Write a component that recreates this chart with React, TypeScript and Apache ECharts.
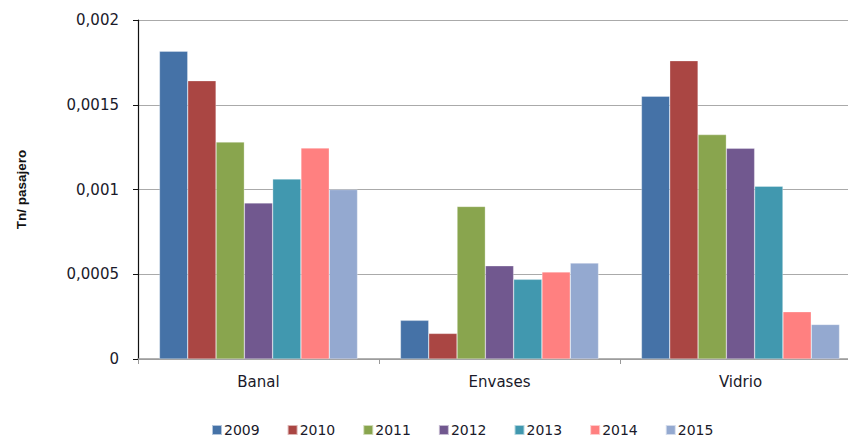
import React, { useEffect, useRef } from "react";
import * as echarts from "echarts";

const categories = ["Banal", "Envases", "Vidrio"];
const years = ["2009", "2010", "2011", "2012", "2013", "2014", "2015"];
const v2009 = [0.001816, 0.000228, 0.00155];
const v2010 = [0.001642, 0.000151, 0.00176];
const v2011 = [0.00128, 0.0009, 0.001324];
const v2012 = [0.000921, 0.00055, 0.001243];
const v2013 = [0.001062, 0.00047, 0.001019];
const v2014 = [0.001245, 0.000514, 0.000279];
const v2015 = [0.001, 0.000566, 0.000204];
const seriesValues = [v2009, v2010, v2011, v2012, v2013, v2014, v2015];
const colors = ["#4572A7", "#AA4643", "#89A54E", "#71588F", "#4198AF", "#FF8080", "#94A9D0"];

export default function App() {
  const ref = useRef<HTMLDivElement>(null);
  useEffect(() => {
    if (!ref.current) return;
    const chart = echarts.init(ref.current, undefined, { renderer: "svg" });
    chart.setOption({
      animation: false,
      backgroundColor: "#ffffff",
      textStyle: { fontFamily: "DejaVu Sans" },
      grid: {
        left: 138,
        top: 20,
        width: 723,
        height: 339,
        containLabel: false,
        outerBoundsMode: "none",
      },
      legend: {
        bottom: -4,
        left: 206,
        itemWidth: 10,
        itemHeight: 10,
        itemGap: 27,
        icon: "rect",
        textStyle: { fontSize: 14, color: "#1a1a2a", padding: [0, 0, 0, -3] },
        data: years,
      },
      xAxis: {
        type: "category",
        data: categories,
        axisLine: { lineStyle: { color: "#999", width: 1.5 } },
        axisTick: { show: true, length: 5, lineStyle: { color: "#999" } },
        axisLabel: { fontSize: 15, color: "#1a1a2a", margin: 15 },
      },
      yAxis: {
        type: "value",
        min: 0,
        max: 0.002,
        interval: 0.0005,
        name: "Tn/ pasajero",
        nameLocation: "middle",
        nameGap: 110,
        nameTextStyle: {
          fontSize: 13.5,
          fontWeight: "bold",
          color: "#111",
          fontFamily: "Liberation Sans",
        },
        axisLine: { show: true, lineStyle: { color: "#111", width: 1.2 } },
        axisTick: { show: true, length: 5, lineStyle: { color: "#111" } },
        axisLabel: {
          fontSize: 15,
          color: "#1a1a2a",
          margin: 19,
          formatter: (v: number) => String(Number(v.toFixed(6))).replace(".", ","),
        },
        splitLine: { lineStyle: { color: "#aaa", width: 1.2 } },
      },
      series: years.map((y, i) => ({
        name: y,
        type: "bar",
        data: seriesValues[i],
        barGap: "0%",
        barCategoryGap: "17.8%",
        itemStyle: { color: colors[i], borderColor: "rgba(255,255,255,0.6)", borderWidth: 0.5 },
      })),
    });
    return () => chart.dispose();
  }, []);
  return (
    <div
      ref={ref}
      style={{ position: "absolute", left: 0, top: 0, width: 848, height: 438 }}
    />
  );
}
